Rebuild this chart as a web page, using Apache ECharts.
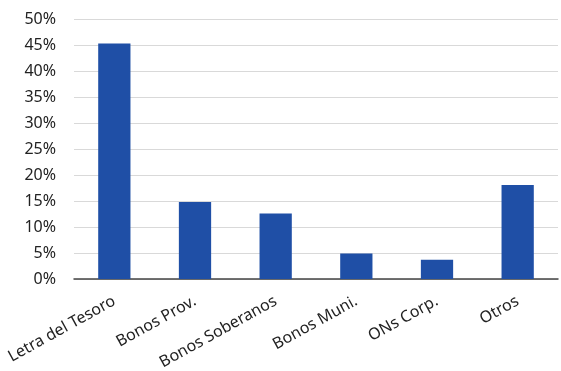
<!DOCTYPE html>
<html><head><meta charset="utf-8">
<script src="https://cdn.jsdelivr.net/npm/echarts@6/dist/echarts.min.js"></script>
<style>html,body{margin:0;padding:0;background:#fff}#c{width:561px;height:371px}</style>
</head><body><div id="c"></div>
<script>
const categories = ["Letra del Tesoro","Bonos Prov.","Bonos Soberanos","Bonos Muni.","ONs Corp.","Otros"];
const values = [45.3, 14.8, 12.6, 4.9, 3.7, 18.1];
const yTicks = [0,5,10,15,20,25,30,35,40,45,50];
const chart = echarts.init(document.getElementById('c'));
chart.setOption({
  animation:false,
  grid:{left:74,right:3,top:19,bottom:92,containLabel:false,outerBoundsMode:'none'},
  xAxis:{type:'category',data:categories,
    axisLine:{lineStyle:{color:'#444',width:1.5}},axisTick:{show:false},
    axisLabel:{rotate:29,interval:0,margin:21,color:'#222',fontSize:16,fontFamily:'Noto Sans'}},
  yAxis:{type:'value',min:yTicks[0],max:yTicks[yTicks.length-1],interval:5,
    axisLabel:{formatter:'{value}%',color:'#222',fontSize:16,fontFamily:'Noto Sans',margin:18},
    splitLine:{lineStyle:{color:'#d9d9d9',width:1}},axisLine:{show:false},axisTick:{show:false}},
  series:[{type:'bar',data:values,barWidth:'40%',itemStyle:{color:'#1f4fa6'}}]
});
</script></body></html>
